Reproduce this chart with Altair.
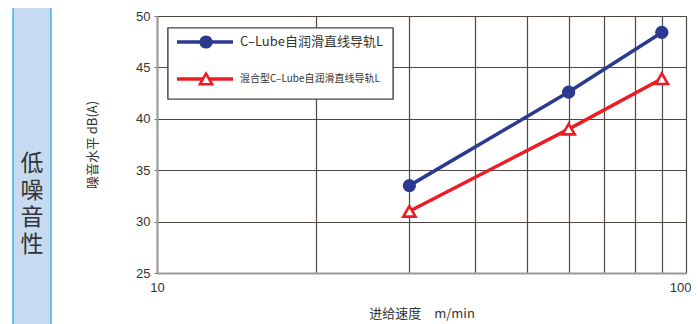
import altair as alt
import pandas as pd

speed = [30, 60, 90]
series_names = ["C–Lube自润滑直线导轨L", "混合型C–Lube自润滑直线导轨L"]
clube_noise = [33.5, 42.6, 48.4]
hybrid_noise = [31.0, 39.0, 43.9]
x_ticks = [10, 20, 30, 40, 50, 60, 70, 80, 90, 100]
y_ticks = [25, 30, 35, 40, 45, 50]

BLUE = "#2B3990"
RED = "#ED1C24"
GRID = "#4f4741"
CJK = "Noto Sans CJK SC"
LAT = "Liberation Sans"

df = pd.DataFrame({
    "speed": speed * 2,
    "noise": clube_noise + hybrid_noise,
    "series": [series_names[0]] * 3 + [series_names[1]] * 3,
})

W, H = 529, 257

xscale = alt.Scale(type="log", domain=[10, 100], nice=False)
yscale = alt.Scale(domain=[25, 50], nice=False, zero=False)

x_enc = alt.X("speed:Q", scale=xscale, axis=alt.Axis(
    values=x_ticks, labelExpr="datum.value == 10 || datum.value == 100 ? datum.label : ''",
    labelAlign={"condition": {"test": "datum.value == 100", "value": "right"}, "value": "center"},
    labelOffset={"condition": {"test": "datum.value == 100", "value": 5}, "value": 0},
    grid=True, gridColor=GRID, gridWidth=1.2, gridOpacity=1,
    ticks=False, domain=True, domainColor="#9a9a9a", domainWidth=2,
    labelFont=LAT, labelFontSize=13, labelColor="#333", labelPadding=8,
    labelFlush=False, labelOverlap=False,
    title="进给速度　m/min", titleFont=CJK, titleFontSize=13, titleFontWeight="normal",
    titleColor="#333", titlePadding=13))
y_enc = alt.Y("noise:Q", scale=yscale, axis=alt.Axis(
    values=y_ticks, grid=True, gridColor=GRID, gridWidth=1.2, gridOpacity=1,
    ticks=True, tickSize=3, tickColor="#777", domain=True, domainColor="#9a9a9a", domainWidth=2,
    labelFont=LAT, labelFontSize=13, labelColor="#333", labelPadding=4,
    labelFlush=False, labelOverlap=False,
    title="噪音水平 dB(A)", titleFont=CJK, titleFontSize=13, titleFontWeight="normal",
    titleColor="#333", titlePadding=36))

color_scale = alt.Scale(domain=series_names, range=[BLUE, RED])

base = alt.Chart(df)

lines = base.mark_line(strokeWidth=3.5).encode(
    x=x_enc, y=y_enc,
    color=alt.Color("series:N", scale=color_scale, legend=None),
    detail="series:N",
)

pts_blue = base.transform_filter(alt.datum.series == series_names[0]).mark_point(
    shape="circle", filled=True, size=175, color=BLUE, opacity=1
).encode(x="speed:Q", y="noise:Q")

pts_red = base.transform_filter(alt.datum.series == series_names[1]).mark_point(
    shape="triangle-up", filled=True, size=150, fill="white", stroke=RED, strokeWidth=2.6, opacity=1
).encode(x="speed:Q", y="noise:Q")

# Manual legend
leg_df = pd.DataFrame({"series": series_names})
leg_box = alt.Chart(leg_df).mark_rect(fill="white", stroke="#444", strokeWidth=1.2).encode(
    x=alt.value(11), x2=alt.value(236), y=alt.value(12), y2=alt.value(83))

def legend_row(i, ypos, fsize, symbol):
    d = alt.Chart(leg_df).transform_filter(alt.datum.series == series_names[i])
    color = BLUE if i == 0 else RED
    line = d.mark_rule(strokeWidth=3.5, color=color).encode(
        x=alt.value(20), x2=alt.value(76), y=alt.value(ypos))
    if symbol == "circle":
        sym = d.mark_point(shape="circle", filled=True, size=175, color=BLUE, opacity=1).encode(
            x=alt.value(49), y=alt.value(ypos))
    else:
        sym = d.mark_point(shape="triangle-up", filled=True, size=150, fill="white",
                           stroke=RED, strokeWidth=2.6, opacity=1).encode(
            x=alt.value(49), y=alt.value(ypos))
    txt = d.mark_text(align="left", baseline="middle", font=CJK, fontSize=fsize, color="#333").encode(
        x=alt.value(83), y=alt.value(ypos), text="series:N")
    return line + sym + txt

leg1 = legend_row(0, 26, 13, "circle")
leg2 = legend_row(1, 63, 10, "triangle")

# Left side panel
panel = alt.Chart(leg_df.head(1)).mark_rect(fill="#C6DAF1", stroke="#4AB0EA", strokeWidth=1.5, clip=False).encode(
    x=alt.value(-144), x2=alt.value(-106), y=alt.value(-10), y2=alt.value(330))
panel_text = alt.Chart(leg_df.head(1)).mark_text(
    text=["低", "噪", "音", "性"], lineHeight=27, font=CJK, fontSize=23, color="#333",
    align="center", baseline="middle").encode(x=alt.value(-125), y=alt.value(148))

chart = alt.layer(lines, pts_blue, pts_red, leg_box, leg1, leg2, panel, panel_text).properties(
    width=W, height=H,
    autosize=alt.AutoSizeParams(type="none"),
    padding={"left": 149, "top": 8, "right": 5, "bottom": 51},
).configure_view(fill="#FDEBD6", stroke=GRID, strokeWidth=1.2).configure(background="white")

chart.save("out.html", embed_options={"renderer": "svg", "actions": False})
